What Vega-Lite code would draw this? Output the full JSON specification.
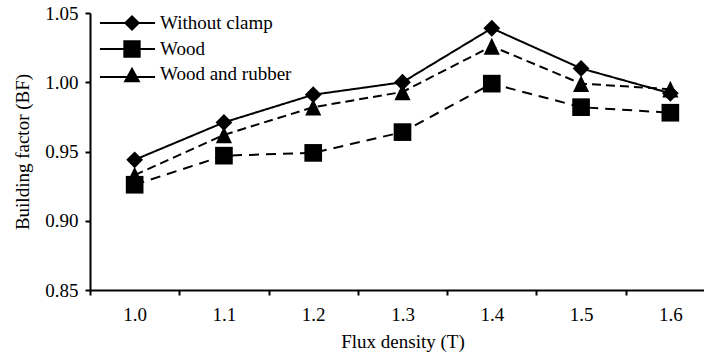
{
  "$schema": "https://vega.github.io/schema/vega-lite/v6.json",
  "width": 614,
  "height": 277,
  "autosize": {"type": "none"},
  "padding": {"left": 90, "top": 13, "right": 0, "bottom": 66},
  "background": "white",
  "config": {
    "view": {"stroke": null},
    "font": "Liberation Serif",
    "axis": {
      "grid": false,
      "domainColor": "black",
      "domainWidth": 2,
      "tickColor": "black",
      "tickWidth": 2,
      "tickSize": 5,
      "labelFont": "Liberation Serif",
      "labelFontSize": 19,
      "labelColor": "black",
      "titleFont": "Liberation Serif",
      "titleFontSize": 19,
      "titleFontWeight": "normal",
      "titleColor": "black"
    },
    "legend": {
      "labelFont": "Liberation Serif",
      "labelFontSize": 19,
      "labelColor": "black"
    }
  },
  "data": {
    "values": [
      {"flux": "1.0", "series": "Without clamp", "bf": 0.944},
      {"flux": "1.1", "series": "Without clamp", "bf": 0.971},
      {"flux": "1.2", "series": "Without clamp", "bf": 0.991},
      {"flux": "1.3", "series": "Without clamp", "bf": 1.000},
      {"flux": "1.4", "series": "Without clamp", "bf": 1.039},
      {"flux": "1.5", "series": "Without clamp", "bf": 1.010},
      {"flux": "1.6", "series": "Without clamp", "bf": 0.992},
      {"flux": "1.0", "series": "Wood", "bf": 0.926},
      {"flux": "1.1", "series": "Wood", "bf": 0.947},
      {"flux": "1.2", "series": "Wood", "bf": 0.949},
      {"flux": "1.3", "series": "Wood", "bf": 0.964},
      {"flux": "1.4", "series": "Wood", "bf": 0.999},
      {"flux": "1.5", "series": "Wood", "bf": 0.982},
      {"flux": "1.6", "series": "Wood", "bf": 0.978},
      {"flux": "1.0", "series": "Wood and rubber", "bf": 0.933},
      {"flux": "1.1", "series": "Wood and rubber", "bf": 0.962},
      {"flux": "1.2", "series": "Wood and rubber", "bf": 0.982},
      {"flux": "1.3", "series": "Wood and rubber", "bf": 0.993},
      {"flux": "1.4", "series": "Wood and rubber", "bf": 1.026},
      {"flux": "1.5", "series": "Wood and rubber", "bf": 0.999},
      {"flux": "1.6", "series": "Wood and rubber", "bf": 0.995}
    ]
  },
  "encoding": {
    "x": {
      "field": "flux",
      "type": "ordinal",
      "sort": ["1.0", "1.1", "1.2", "1.3", "1.4", "1.5", "1.6"],
      "scale": {"type": "band", "range": [0, 625], "paddingInner": 0, "paddingOuter": 0},
      "axis": {
        "title": "Flux density (T)",
        "labelAngle": 0,
        "tickBand": "extent",
        "labelPadding": 10,
        "titlePadding": 8
      }
    },
    "y": {
      "field": "bf",
      "type": "quantitative",
      "scale": {"domain": [0.85, 1.05], "nice": false, "zero": false},
      "axis": {
        "title": "Building factor (BF)",
        "values": [0.85, 0.9, 0.95, 1.0, 1.05],
        "format": ".2f",
        "labelPadding": 7,
        "titlePadding": 12
      }
    }
  },
  "resolve": {"scale": {"shape": "independent"}, "legend": {"shape": "independent"}},
  "layer": [
    {
      "mark": {"type": "line", "color": "black", "strokeWidth": 2},
      "encoding": {
        "detail": {"field": "series"},
        "strokeDash": {
          "field": "series",
          "type": "nominal",
          "scale": {"domain": ["Wood", "Wood and rubber", "Without clamp"], "range": [[10, 7], [9, 5], [1, 0]]},
          "legend": null
        }
      }
    },
    {
      "mark": {"type": "point", "filled": true, "color": "black", "opacity": 1, "size": 300},
      "encoding": {
        "shape": {
          "field": "series",
          "type": "nominal",
          "scale": {
            "domain": ["Wood", "Wood and rubber", "Without clamp"],
            "range": [
              "M-1.02,-1.02H1.02V1.02H-1.02Z",
              "M0,-0.97L0.93,0.97L-0.93,0.97Z",
              "M0,-0.97L0.97,0L0,0.97L-0.97,0Z"
            ]
          },
          "legend": null
        }
      }
    },
    {
      "transform": [{"filter": "false"}],
      "mark": {"type": "point", "filled": true, "color": "black", "opacity": 1, "size": 300},
      "encoding": {
        "shape": {
          "field": "series",
          "type": "nominal",
          "scale": {
            "domain": ["Without clamp", "Wood", "Wood and rubber"],
            "range": [
              "M-3.7,-0.12H2.66V0.12H-3.7ZM0,-0.93L0.93,0L0,0.93L-0.93,0Z",
              "M-3.7,-0.12H2.66V0.12H-3.7ZM-1.0,-1.0H1.0V1.0H-1.0Z",
              "M-3.7,0.23H2.66V0.47H-3.7ZM0,-0.85L0.98,0.95L-0.98,0.95Z"
            ]
          },
          "legend": {
            "title": null,
            "orient": "none",
            "legendX": 32,
            "legendY": 0,
            "padding": 0,
            "symbolSize": 300,
            "symbolStrokeWidth": 2,
            "symbolFillColor": "black",
            "symbolOpacity": 1,
            "labelOffset": 18,
            "labelFont": "Liberation Serif",
            "labelFontSize": 19,
            "labelColor": "black",
            "rowPadding": 0
          }
        }
      }
    }
  ]
}
